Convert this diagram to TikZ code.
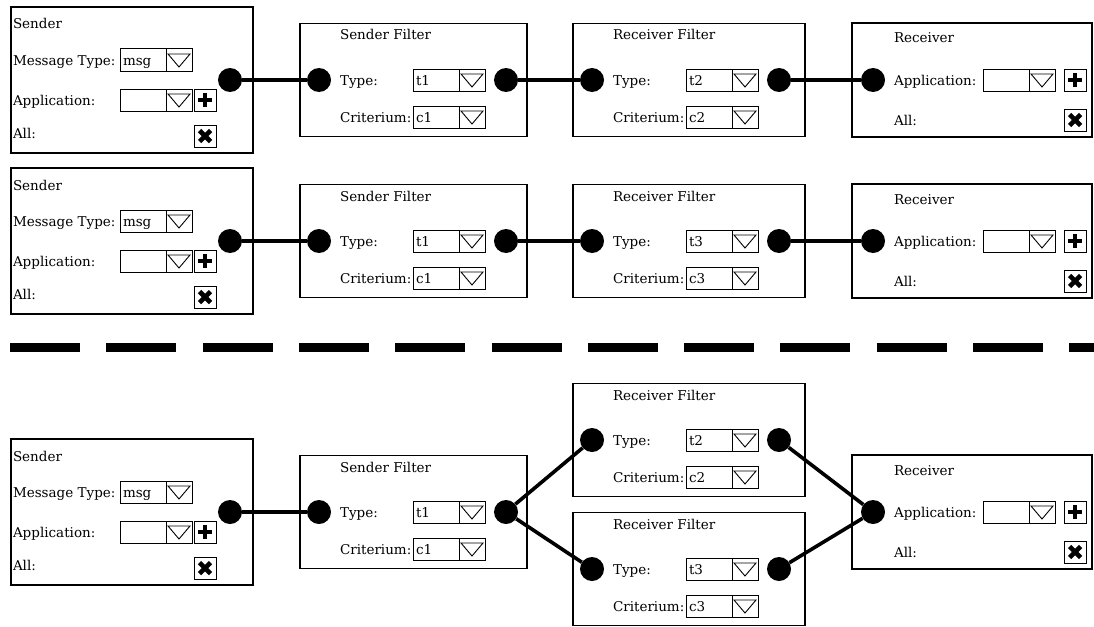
\documentclass[tikz,border=0pt]{standalone}
\usepackage{fontspec}
\setmainfont{DejaVu Serif}
\newcommand\panelfont{\fontsize{13.5}{16}\selectfont}

% drop-down field: left x, centre y, entry text, node name
\newcommand\combo[4]{%
  \draw[fieldline] (#1,#2-11) rectangle (#1+46,#2+11);
  \draw[fieldline] (#1+46,#2-11) rectangle (#1+72,#2+11);
  \draw[triline] (#1+48,#2-6) -- (#1+70,#2-6) -- (#1+59,#2+7) -- cycle;
  \node[lbl] (#4) at (#1+3,#2+5) {#3};
}
% "add" button: centre x, centre y, node name
\newcommand\addbtn[3]{%
  \node[btn] (#3) at (#1,#2) {};
  \draw[line width=3.6pt] (#3.center) +(-7,0) -- +(7,0) +(0,-7) -- +(0,7);
}
% "remove all" button: centre x, centre y, node name
\newcommand\delbtn[3]{%
  \node[btn] (#3) at (#1,#2) {};
  \draw[line width=4.6pt] (#3.center) +(-5.5,-5.5) -- +(5.5,5.5) +(-5.5,5.5) -- +(5.5,-5.5);
}
% sender panel: name, centre y
\newcommand\senderpanel[2]{%
  \node[panel, minimum width=242pt, minimum height=146pt] (#1) at (132,#2) {};
  \node[lbl] (#1t) at (13,#2-51) {Sender};
  \node[lbl] (#1m) at (13,#2-15) {Message Type:};
  \combo{120}{#2-20}{msg}{#1mv}
  \node[lbl] (#1a) at (13,#2+25) {Application:};
  \combo{120}{#2+20}{}{#1av}
  \addbtn{205}{#2+20}{#1add}
  \node[lbl] (#1b) at (13,#2+58) {All:};
  \delbtn{205}{#2+56}{#1del}
  \node[port] (#1o) at (230,#2) {};
}
% filter panel: name, left x, width, centre y, title, type, criterion
\newcommand\filterpanel[7]{%
  \node[panel, anchor=west, minimum width=#3pt, minimum height=113pt] (#1) at (#2,#4) {};
  \node[port] (#1i) at (#2+19,#4) {};
  \node[port] (#1o) at (#2+206,#4) {};
  \node[lbl] (#1t) at (#2+40,#4-40) {#5};
  \node[lbl] (#1a) at (#2+40,#4+5) {Type:};
  \combo{#2+113}{#4}{#6}{#1av}
  \node[lbl] (#1b) at (#2+40,#4+42) {Criterium:};
  \combo{#2+113}{#4+37}{#7}{#1bv}
}
% receiver panel: name, centre y
\newcommand\receiverpanel[2]{%
  \node[panel, minimum width=240pt, minimum height=114pt] (#1) at (972,#2) {};
  \node[port] (#1i) at (873,#2) {};
  \node[lbl] (#1t) at (894,#2-37) {Receiver};
  \node[lbl] (#1a) at (894,#2+5) {Application:};
  \combo{983}{#2}{}{#1av}
  \addbtn{1075}{#2}{#1add}
  \node[lbl] (#1b) at (894,#2+45) {All:};
  \delbtn{1075}{#2+40}{#1del}
}

\begin{document}
\begin{tikzpicture}[x=1pt, y=-1pt,
  panel/.style={draw, line width=1.2pt, inner sep=0pt, outer sep=0pt},
  lbl/.style={anchor=base west, inner sep=0pt, outer sep=0pt, font=\panelfont},
  port/.style={circle, fill=black, inner sep=0pt, minimum size=24pt},
  btn/.style={draw, line width=1pt, minimum size=22pt, inner sep=0pt},
  fieldline/.style={line width=1pt},
  triline/.style={line width=0.9pt, line join=miter},
  wire/.style={line width=3.6pt},
  sep/.style={line width=9pt, dash pattern=on 70pt off 26.3pt}]
\useasboundingbox (0,0) rectangle (1094,626);

% first chain
\senderpanel{sa}{80}
\filterpanel{sfa}{300}{227}{80}{Sender Filter}{t1}{c1}
\filterpanel{rfa}{573}{232}{80}{Receiver Filter}{t2}{c2}
\receiverpanel{ra}{80}
\draw[wire] (sao) -- (sfai);
\draw[wire] (sfao) -- (rfai);
\draw[wire] (rfao) -- (rai);

% second chain
\senderpanel{sb}{241}
\filterpanel{sfb}{300}{227}{241}{Sender Filter}{t1}{c1}
\filterpanel{rfb}{573}{232}{241}{Receiver Filter}{t3}{c3}
\receiverpanel{rb}{241}
\draw[wire] (sbo) -- (sfbi);
\draw[wire] (sfbo) -- (rfbi);
\draw[wire] (rfbo) -- (rbi);

% separator
\coordinate (sepl) at (10,347.5);
\coordinate (sepr) at (1094,347.5);
\draw[sep] (sepl) -- (sepr);

% merged chain with two receiver filters
\senderpanel{sc}{512}
\filterpanel{sfc}{300}{227}{512}{Sender Filter}{t1}{c1}
\filterpanel{rfc}{573}{232}{440}{Receiver Filter}{t2}{c2}
\filterpanel{rfd}{573}{232}{569}{Receiver Filter}{t3}{c3}
\receiverpanel{rc}{512}
\draw[wire] (sco) -- (sfci);
\draw[wire] (sfco) -- (rfci);
\draw[wire] (sfco) -- (rfdi);
\draw[wire] (rfco) -- (rci);
\draw[wire] (rfdo) -- (rci);
\end{tikzpicture}
\end{document}
